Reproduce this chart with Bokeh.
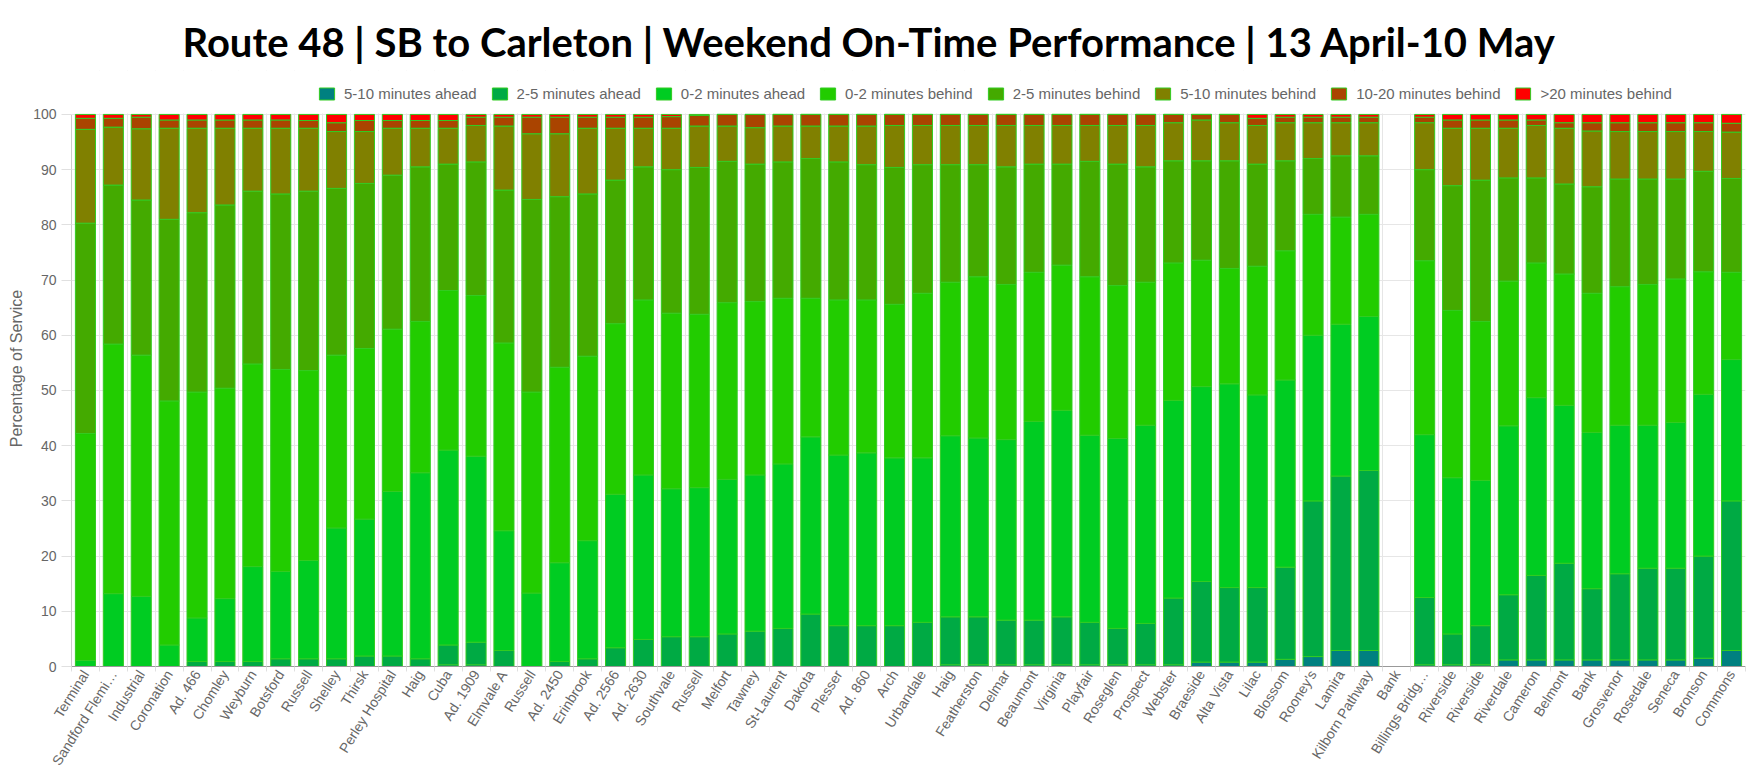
import math
from bokeh.plotting import figure
from bokeh.models import (ColumnDataSource, Range1d, FixedTicker, Legend, LegendItem,
                          BoxAnnotation)
from bokeh.embed import file_html
from bokeh.resources import INLINE

stops = ["Terminal", "Sandford Flemi…", "Industrial", "Coronation", "Ad. 466", "Chomley",
         "Weyburn", "Botsford", "Russell", "Shelley", "Thirsk", "Perley Hospital", "Haig",
         "Cuba", "Ad. 1909", "Elmvale A", "Russell", "Ad. 2450", "Erinbrook", "Ad. 2566",
         "Ad. 2630", "Southvale", "Russell", "Melfort", "Tawney", "St-Laurent", "Dakota",
         "Plesser", "Ad. 860", "Arch", "Urbandale", "Haig", "Featherston", "Delmar",
         "Beaumont", "Virginia", "Playfair", "Roseglen", "Prospect", "Webster", "Braeside",
         "Alta Vista", "Lilac", "Blossom", "Rooney's", "Lamira", "Kilborn Pathway", "Bank",
         "Billings Bridg…", "Riverside", "Riverside", "Riverdale", "Cameron", "Belmont",
         "Bank", "Grosvenor", "Rosedale", "Seneca", "Bronson", "Commons"]

series_names = ["5-10 minutes ahead", "2-5 minutes ahead", "0-2 minutes ahead",
                "0-2 minutes behind", "2-5 minutes behind", "5-10 minutes behind",
                "10-20 minutes behind", ">20 minutes behind"]

ahead_5_10 = [0, 0, 0, 0, 0, 0, 0, 0, 0, 0, 0, 0, 0, 0.3, 0.3, 0, 0, 0, 0, 0,
              0, 0, 0, 0, 0, 0, 0, 0, 0, 0, 0, 0.3, 0.3, 0.3, 0.3, 0.3, 0.3, 0.3, 0.3, 0.3,
              0.8, 0.8, 0.8, 1.3, 1.8, 2.9, 2.9, 0, 0.3, 0.3, 0.3, 1.2, 1.2, 1.2, 1.2, 1.2,
              1.2, 1.2, 1.5, 2.9]
ahead_2_5 = [0, 0, 0, 0, 0.9, 0.9, 0.9, 1.4, 1.4, 1.4, 1.9, 1.9, 1.4, 3.6, 4.1, 2.9, 0, 0.9, 1.4, 3.4,
             4.9, 5.4, 5.4, 5.9, 6.4, 6.9, 9.5, 7.4, 7.4, 7.4, 8.0, 8.7, 8.7, 8.1, 8.1, 8.7, 7.7, 6.6, 7.5, 12.1,
             14.6, 13.5, 13.5, 16.7, 28.2, 31.6, 32.6, 0, 12.2, 5.6, 7.1, 11.8, 15.3, 17.5, 12.9, 15.6,
             16.6, 16.6, 18.5, 27.1]
ahead_0_2 = [1.1, 13.2, 12.7, 3.9, 7.9, 11.4, 17.2, 15.8, 17.8, 23.7, 24.8, 29.8, 33.7, 35.3, 33.7, 21.7, 13.3, 17.9, 21.4, 27.8,
             29.8, 26.8, 27.0, 28.0, 28.3, 29.8, 32.1, 30.9, 31.3, 30.4, 29.8, 32.8, 32.4, 32.7, 36.0, 37.4, 33.9, 34.4, 35.9, 35.8,
             35.3, 36.9, 34.9, 33.9, 30.0, 27.5, 27.9, 0, 29.5, 28.3, 26.3, 30.6, 32.2, 28.6, 28.3, 26.9,
             25.9, 26.4, 29.3, 25.6]
behind_0_2 = [41.1, 45.2, 43.7, 44.2, 40.9, 38.1, 36.7, 36.6, 34.4, 31.3, 30.9, 29.4, 27.4, 28.9, 29.1, 34.0, 36.4, 35.4, 33.4, 30.9,
              31.7, 31.8, 31.4, 32.0, 31.4, 30.0, 25.1, 28.1, 27.7, 27.8, 29.8, 27.8, 29.2, 28.1, 27.0, 26.3, 28.7, 27.7, 25.9, 24.9,
              22.9, 20.9, 23.3, 23.4, 21.9, 19.4, 18.5, 0, 31.5, 30.3, 28.8, 26.2, 24.4, 23.8, 25.2, 25.1,
              25.5, 26.0, 22.2, 15.8]
behind_2_5 = [38.1, 28.8, 28.1, 32.9, 32.5, 33.2, 31.3, 31.8, 32.5, 30.2, 29.9, 27.9, 28.0, 22.9, 24.2, 27.7, 34.9, 30.9, 29.4, 26.0,
              24.1, 26.0, 26.6, 25.6, 24.9, 24.7, 25.3, 25.0, 24.5, 24.8, 23.3, 21.3, 20.3, 21.3, 19.6, 18.3, 20.9, 22.0, 20.9, 18.5,
              18.0, 19.5, 18.5, 16.3, 10.1, 11.1, 10.6, 0, 16.5, 22.6, 25.6, 18.7, 15.4, 16.3, 19.3, 19.5,
              19.1, 18.1, 18.2, 17.0]
behind_5_10 = [17.0, 10.5, 12.9, 16.5, 15.3, 13.9, 11.4, 11.9, 11.4, 10.3, 9.4, 8.5, 7.0, 6.5, 6.6, 11.6, 11.9, 11.4, 11.9, 9.4,
               7.0, 7.5, 7.5, 6.4, 6.6, 6.5, 5.9, 6.5, 7.0, 7.6, 7.1, 7.1, 7.1, 7.5, 7.0, 7.0, 6.5, 7.0, 7.5, 6.9,
               7.4, 6.9, 7.0, 6.9, 6.5, 6.0, 6.0, 0, 8.5, 10.4, 9.4, 9.0, 9.5, 10.1, 10.1, 8.6,
               8.6, 8.6, 7.2, 8.4]
behind_10_20 = [2.0, 1.6, 2.1, 1.5, 1.5, 1.5, 1.5, 1.5, 1.4, 1.6, 2.0, 1.4, 1.4, 1.4, 1.5, 1.6, 3.0, 3.0, 2.0, 2.0,
                2.0, 2.1, 1.9, 2.1, 2.4, 2.1, 2.1, 2.1, 2.1, 2.0, 2.0, 2.0, 2.0, 2.0, 2.0, 2.0, 2.0, 2.0, 2.0, 1.5,
                1.0, 1.5, 1.3, 1.0, 1.0, 1.0, 1.0, 0, 1.0, 1.5, 1.5, 1.5, 1.0, 1.0, 1.5, 1.6,
                1.6, 1.6, 1.6, 1.6]
behind_20_plus = [0.7, 0.7, 0.5, 1.0, 1.0, 1.0, 1.0, 1.0, 1.1, 1.5, 1.1, 1.1, 1.1, 1.1, 0.5, 0.5, 0.5, 0.5, 0.5, 0.5,
                  0.5, 0.4, 0.2, 0, 0, 0, 0, 0, 0, 0, 0, 0, 0, 0, 0, 0, 0, 0, 0, 0,
                  0, 0, 0.7, 0.5, 0.5, 0.5, 0.5, 0, 0.5, 1.0, 1.0, 1.0, 1.0, 1.5, 1.5, 1.5,
                  1.5, 1.5, 1.5, 1.6]

colors = ["#008080", "#00aa44", "#00cc22", "#22cc00", "#44aa00", "#808000", "#aa4400", "#ff0000"]

series_values = [ahead_5_10, ahead_2_5, ahead_0_2, behind_0_2, behind_2_5,
                 behind_5_10, behind_10_20, behind_20_plus]

n = len(stops)
xs = list(range(n))
data = {"x": xs}
for name, vals in zip(series_names, series_values):
    data[name] = vals
source = ColumnDataSource(data)

# frame: top at 70px (room for legend inside), value 100 at ~114px, value 0 at 667px
frame_top, top100, frame_bottom = 70, 114, 667
frame_h = frame_bottom - frame_top
y_end = 100 * frame_h / (frame_bottom - top100)

p = figure(width=1752, height=775, x_range=Range1d(-0.5, n - 0.5), y_range=Range1d(0, y_end),
           output_backend="svg", toolbar_location=None,
           min_border_left=71, min_border_right=7, min_border_top=frame_top,
           min_border_bottom=775 - frame_bottom)
p.outline_line_color = None

renderers = p.vbar_stack(series_names, x="x", width=0.72, fill_color=colors,
                         line_color="#33cc22", line_width=1, source=source)

# hide grid lines above 100
p.add_layout(BoxAnnotation(bottom=100.15, fill_color="white", fill_alpha=1.0,
                           line_color=None, level="underlay"))

legend = Legend(items=[LegendItem(label=nm, renderers=[r]) for nm, r in zip(series_names, renderers)],
                orientation="horizontal", location=(246, frame_bottom - 103))
legend.border_line_color = None
legend.background_fill_alpha = 0
legend.padding = 0
legend.margin = 0
legend.spacing = 13
legend.glyph_width = 19
legend.glyph_height = 15
legend.label_standoff = 8
legend.label_height = 15
legend.label_text_font = "Liberation Sans"
legend.label_text_font_size = "15px"
legend.label_text_color = "#666666"
legend.label_text_baseline = "middle"
p.add_layout(legend, "center")

p.title.text = "Route 48 | SB to Carleton | Weekend On-Time Performance | 13 April-10 May"
p.title.text_font = "Lato"
p.title.text_font_style = "bold"
p.title.text_font_size = "40px"
p.title.text_color = "#000000"
p.title.align = "left"
p.title.offset = 111

boundaries = [i - 0.5 for i in range(n + 1)]
xaxis = p.xaxis[0]
xaxis.ticker = FixedTicker(ticks=xs, minor_ticks=boundaries)
xaxis.major_label_overrides = {i: s for i, s in enumerate(stops)}
xaxis.major_label_orientation = math.radians(58)
xaxis.major_tick_line_color = None
xaxis.major_tick_in = 0
xaxis.major_tick_out = 0
xaxis.minor_tick_in = 0
xaxis.minor_tick_out = 5
xaxis.minor_tick_line_color = "#e0e0e0"
xaxis.axis_line_color = "#999999"
xaxis.major_label_text_color = "#666666"
xaxis.major_label_text_font = "Liberation Sans"
xaxis.major_label_text_font_size = "14px"
xaxis.major_label_standoff = 0

yaxis = p.yaxis[0]
yaxis.ticker = FixedTicker(ticks=list(range(0, 101, 10)))
yaxis.bounds = (0, 100)
yaxis.axis_label = "Percentage of Service"
yaxis.axis_label_text_font_style = "normal"
yaxis.axis_label_text_font = "Liberation Sans"
yaxis.axis_label_text_font_size = "16px"
yaxis.axis_label_text_color = "#666666"
yaxis.major_label_text_color = "#666666"
yaxis.major_label_text_font = "Liberation Sans"
yaxis.major_label_text_font_size = "14px"
yaxis.major_tick_in = 0
yaxis.major_tick_out = 10
yaxis.major_tick_line_color = "#e0e0e0"
yaxis.minor_tick_line_color = None
yaxis.axis_line_color = "#cccccc"

p.xgrid.ticker = FixedTicker(ticks=boundaries)
p.xgrid.grid_line_color = "#e6e6e6"
p.ygrid.ticker = FixedTicker(ticks=list(range(0, 101, 10)))
p.ygrid.grid_line_color = "#e6e6e6"

open("out.html", "w").write(file_html(p, INLINE))
